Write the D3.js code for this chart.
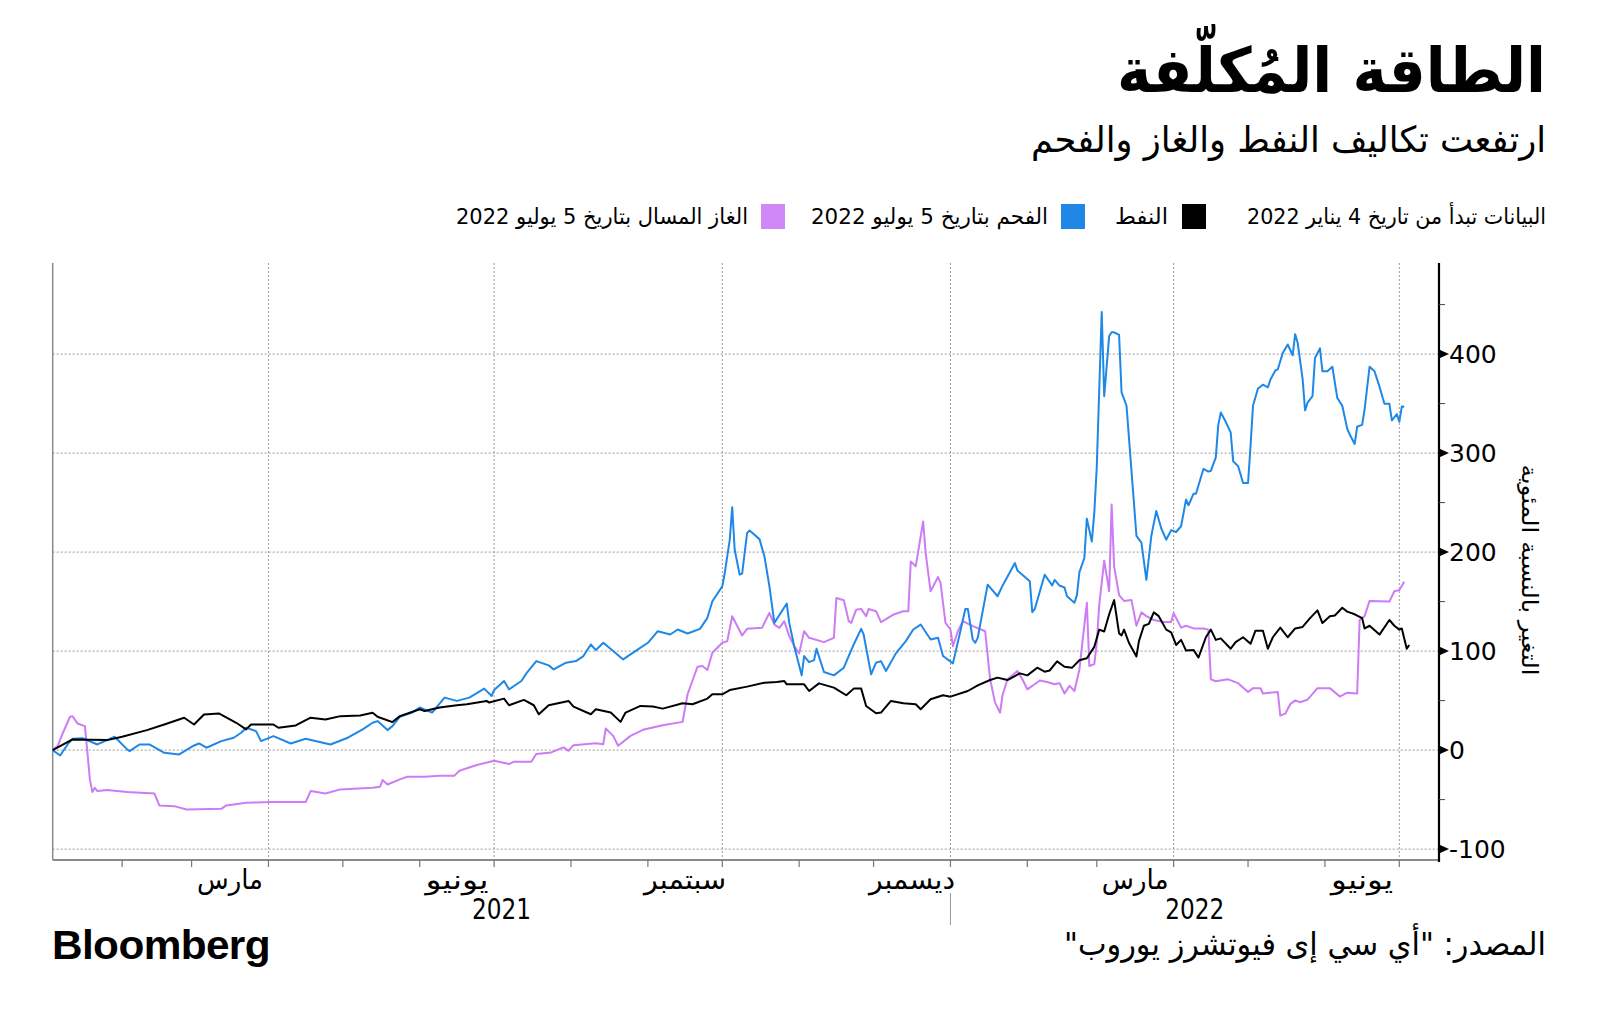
<!DOCTYPE html>
<html><head><meta charset="utf-8">
<script src="https://cdn.jsdelivr.net/npm/d3@7"></script>
<style>body{margin:0;background:#fff}svg{display:block}</style>
</head><body>
<svg id="chart" width="1600" height="1027"></svg>
<script>
// ---- DATA (day offset from start date, % change) ----
const startDate = "2021-01-04";
const endDate = "2022-07-17";
const seriesNames = ["النفط", "الفحم بتاريخ 5 يوليو 2022", "الغاز المسال بتاريخ 5 يوليو 2022"];
const legendNote = "البيانات تبدأ من تاريخ 4 يناير 2022";
const oilData = [[0,0],[8,10.8],[22,10.1],[28,13.5],[38,20.2],[45,25.9],[53,32.7],[57,25.9],[61,36],[67,37],[74,27.6],[78,20.9],[80,25.9],[89,25.9],[91,22.6],[98,24.9],[104,32.7],[110,31],[116,34.3],[124,35],[129,37.7],[131,33.7],[137,28.3],[140,34.3],[148,41.3],[150,39.4],[156,43],[163,45.3],[167,46.3],[175,49.7],[176,48],[182,52],[184,45.3],[190,50.7],[194,45.3],[196,36.2],[200,45.3],[208,49.7],[210,44],[217,36.2],[219,41.3],[225,37.9],[229,28.5],[231,37.9],[237,44.6],[242,44],[246,41.9],[254,47.3],[258,46.3],[264,52],[266,56.4],[270,56.4],[273,60.7],[280,64.1],[287,68.1],[292,68.8],[295,69.8],[296,66.4],[301,66.4],[303,66.4],[305,59.7],[309,67.4],[315,63.1],[320,55.4],[323,62.1],[326,62.1],[328,44.6],[332,37.2],[334,37.9],[338,49.7],[343,47.3],[348,46.3],[350,41.3],[354,51.3],[359,55.4],[362,54],[369,59.7],[373,65.4],[378,70.8],[381,73.2],[385,70.8],[390,77.5],[393,75.5],[397,83.2],[400,79.2],[402,80.4],[405,89.6],[408,84.2],[411,83.1],[414,90.8],[417,92.7],[420,104.3],[422,121.7],[424,119.8],[426,137.2],[428,151.5],[430,117.9],[431,115.9],[432,121.7],[434,108.2],[437,94.6],[438,110.1],[440,125.6],[442,127.5],[444,139.1],[446,135.3],[449,121.7],[451,119],[453,106.2],[455,111.3],[457,100.5],[460,101.2],[462,93.5],[465,114],[467,121.7],[469,111.3],[471,112.9],[475,102.4],[477,109],[480,114],[483,107.4],[485,120.6],[488,120.6],[490,102.4],[492,114],[495,123.7],[498,114],[501,122.9],[504,124.4],[507,133.3],[510,141.1],[512,128.3],[515,135.3],[517,136],[520,143.8],[522,139.9],[525,137.2],[528,133.3],[529,122.9],[531,125.6],[535,116.7],[539,131.4],[541,125.6],[543,121.7],[544,122.9],[546,102.4],[547,106.2]];
const coalData = [[0,0],[3,-5.4],[6,5.7],[8,11.4],[12,12.1],[18,5.7],[25,13.5],[30,0.7],[31,-1],[35,5.7],[39,5.7],[45,-2.7],[51,-4.4],[57,4.7],[59,6.7],[62,2.4],[68,9.1],[73,12.5],[76,17.5],[78,22.6],[82,19.2],[84,9.1],[89,14.1],[96,6.7],[102,11.4],[112,5.7],[119,12.5],[125,20.9],[129,27.6],[131,29.3],[135,20.2],[137,24.2],[140,33.7],[145,37.9],[148,43],[153,37.9],[158,53],[163,49.7],[168,53],[174,62.1],[177,54.7],[178,60.7],[182,69.8],[184,61.4],[189,69.8],[191,77.5],[195,89.9],[200,85.6],[202,81.5],[207,88.3],[211,89.9],[214,95],[217,106.7],[219,101],[222,108.4],[226,100],[230,91.6],[236,101.7],[240,108.4],[244,120.1],[249,116.8],[252,121.8],[256,117.8],[261,122.5],[264,133.6],[266,150.3],[270,165.4],[271,178.9],[273,212.4],[274,245.3],[275,202.3],[277,177.2],[278,178.2],[280,219.1],[281,221.8],[285,213.1],[287,195.6],[289,165.4],[291,128.5],[296,148],[297,128.5],[299,105],[302,75.5],[303,95],[305,88.9],[307,90.9],[308,102.3],[311,78.9],[315,75.5],[319,83.2],[323,106.7],[326,122.5],[327,116.8],[330,76.5],[332,88.3],[334,89.9],[336,79.9],[340,97.7],[344,110.1],[347,121.8],[350,126.8],[354,111.7],[357,113.4],[359,95],[363,87.6],[366,120.1],[368,142.6],[369,142.6],[371,111.7],[372,108.4],[373,113.4],[377,167.1],[381,155.4],[383,166.1],[388,188.9],[389,181.5],[394,170.5],[395,139.3],[396,142.6],[400,177.2],[403,166.2],[404,172],[406,166.2],[408,164.2],[409,155.3],[412,148.8],[413,156.5],[414,179.7],[416,194],[417,233.8],[419,210.6],[420,239.6],[421,286],[423,442.5],[424,357.5],[426,418.2],[427,422],[428,422],[430,419.3],[431,361.3],[433,347.8],[435,282.1],[437,216.4],[439,209.5],[441,172],[443,216.4],[445,241.5],[447,224.1],[449,212.5],[451,222.2],[453,220.3],[455,226.1],[457,253.1],[458,247.3],[460,258.9],[461,258.9],[464,284],[466,281.3],[467,282.1],[469,295.6],[470,328.5],[471,340.9],[473,331.6],[475,320.8],[476,291.8],[478,286.8],[479,278.3],[480,269.8],[482,269.8],[483,307.2],[484,347.8],[486,365.2],[488,369.1],[490,366.4],[491,374.1],[493,383.4],[494,384.5],[496,401.2],[498,409.7],[500,398.8],[501,420.1],[502,411.6],[504,374.9],[505,343.2],[506,350.9],[508,357.5],[509,396.1],[511,405.8],[512,382.6],[514,382.6],[516,387.2],[518,355.6],[520,347.8],[522,324.6],[523,318.8],[525,309.2],[526,326.6],[528,328.5],[529,344],[531,387.2],[533,382.6],[535,367.1],[537,349.8],[539,349.8],[540,333.1],[542,339.3],[543,331.6],[544,347],[545,346.7]];
const lngData = [[0,0],[2,4],[4,16.8],[7,33.7],[8,34.3],[10,26.9],[13,24.2],[15,-29.6],[16,-42.4],[17,-38],[18,-41.4],[22,-40.4],[30,-42.4],[41,-43.8],[43,-55.9],[49,-56.6],[54,-59.9],[68,-59.3],[70,-55.9],[78,-53.2],[89,-52.5],[102,-52.5],[104,-41.4],[110,-43.8],[116,-39.7],[129,-38],[132,-37],[133,-30.3],[135,-34.7],[140,-29.6],[143,-26.9],[150,-26.9],[156,-25.8],[162,-25.8],[164,-20.8],[171,-15.1],[178,-10.7],[184,-14.1],[186,-11.7],[193,-11.7],[195,-4],[201,-2.3],[206,2.7],[208,-0.7],[210,5],[219,7],[222,6],[223,21.8],[226,14.4],[228,4.4],[233,14.4],[238,20.5],[246,25.2],[254,28.5],[256,56.4],[260,84.2],[262,84.9],[264,80.9],[266,98.3],[270,108.4],[272,110.1],[274,135.2],[278,115.8],[280,122.5],[286,123.5],[289,138.6],[291,126.8],[293,123.5],[295,130.2],[297,115.1],[299,105],[301,97.7],[303,120.1],[305,113.4],[311,109.1],[315,113.4],[316,153.7],[319,151.3],[321,130.2],[322,128.5],[324,141.9],[326,142.6],[328,135.2],[329,142.6],[332,140.3],[334,129.2],[339,136.9],[343,140.3],[345,140.3],[346,190.6],[348,185.6],[351,230.9],[352,199],[354,160.4],[357,174.8],[358,168.8],[360,128.5],[362,121.8],[363,105],[365,120.1],[367,130.2],[371,125.2],[376,120.1],[378,71.5],[380,48],[382,37.9],[383,55.4],[385,71.5],[389,79.9],[391,71.5],[393,61.4],[395,64.8],[398,70.3],[401,68.8],[404,66.5],[406,67.6],[408,57.2],[410,64.9],[412,59.7],[414,81.5],[417,148.8],[418,85],[420,86.9],[421,108.2],[422,146.9],[424,191.3],[426,160.4],[427,248.1],[428,185.5],[430,156.5],[432,150.7],[435,151.5],[437,125.6],[439,139.1],[441,135.3],[444,131.4],[448,129.5],[451,129.5],[452,138.3],[455,123.7],[457,125.6],[460,122.9],[464,122.9],[466,121.7],[467,71.5],[469,69.5],[474,71.5],[478,67.6],[482,58.7],[484,62.6],[487,62.6],[488,57.2],[494,58.7],[495,34.8],[497,36.8],[499,46.4],[501,50.2],[503,48.3],[506,51],[510,62.6],[515,62.6],[519,54.1],[522,58],[526,57.2],[527,131.4],[529,135.3],[531,150.7],[539,150],[541,160.4],[543,161.6],[545,170]];
const yTicks = [-100, 0, 100, 200, 300, 400];
const monthLabels = ["مارس", "يونيو", "سبتمبر", "ديسمبر", "مارس", "يونيو"];
const monthLabelDates = ["2021-03-01", "2021-06-01", "2021-09-01", "2021-12-01", "2022-03-01", "2022-06-01"];
const yearLabels = ["2021", "2022"];
const titleText = "الطاقة المُكلّفة";
const subtitleText = "ارتفعت تكاليف النفط والغاز والفحم";
const yAxisTitle = "التغير بالنسبة المئوية";
const sourceText = "المصدر: \"أي سي إى فيوتشرز يوروب\"";

// ---- LAYOUT ----
const svg = d3.select("#chart");
const AR = "'DejaVu Sans', 'Noto Sans', sans-serif";
const colors = { oil: "#000000", coal: "#1f88e6", lng: "#cc7cf4" };
const L = 52.7, R = 1439, T = 263, B = 860;
const parse = d3.utcParse("%Y-%m-%d");
const t0 = parse(startDate);
const dayToDate = d => new Date(t0.getTime() + d * 86400000);
const x = d3.scaleUtc().domain([t0, parse(endDate)]).range([L, R]);
const y = d3.scaleLinear().domain([-111, 492]).range([B, T]);

function rtlText(g, txt, xx, yy, size, width, weight) {
  const t = g.append("text").attr("x", xx).attr("y", yy)
    .attr("direction", "rtl").attr("text-anchor", "start")
    .attr("font-family", AR).attr("font-size", size)
    .attr("font-weight", weight || "normal").attr("fill", "#000").text(txt);
  if (width) t.attr("textLength", width).attr("lengthAdjust", "spacingAndGlyphs");
  return t;
}

// title / subtitle
rtlText(svg, titleText, 1546, 92, 62, 429, "bold");
rtlText(svg, subtitleText, 1546, 152, 36, 515);

// legend
rtlText(svg, legendNote, 1546, 224, 22, 299);
const legendItems = [
  { sq: 1182, tx: 1168, w: 53, c: colors.oil, name: seriesNames[0] },
  { sq: 1061, tx: 1048, w: 237, c: colors.coal, name: seriesNames[1] },
  { sq: 761, tx: 748, w: 292, c: "#d088f6", name: seriesNames[2] }
];
legendItems.forEach(it => {
  svg.append("rect").attr("x", it.sq).attr("y", 204).attr("width", 24).attr("height", 25).attr("fill", it.c);
  rtlText(svg, it.name, it.tx, 224, 22, it.w);
});

// grid
const grid = svg.append("g");
grid.selectAll("line.h").data(yTicks).join("line")
  .attr("x1", L).attr("x2", R).attr("y1", d => y(d)).attr("y2", d => y(d))
  .attr("stroke", "#9a9a9a").attr("stroke-width", 1).attr("stroke-dasharray", "2,2");
const quarterDates = d3.utcMonth.every(3).range(parse("2021-04-01"), parse("2022-07-02"));
grid.selectAll("line.v").data(quarterDates).join("line")
  .attr("x1", d => x(d)).attr("x2", d => x(d)).attr("y1", T).attr("y2", B)
  .attr("stroke", "#9a9a9a").attr("stroke-width", 1).attr("stroke-dasharray", "2,2");

// axes lines
svg.append("line").attr("x1", L).attr("x2", L).attr("y1", T).attr("y2", B).attr("stroke", "#8a8a8a").attr("stroke-width", 1.5);
svg.append("line").attr("x1", L).attr("x2", R).attr("y1", B).attr("y2", B).attr("stroke", "#8a8a8a").attr("stroke-width", 2);

// x ticks
const monthTicks = d3.utcMonth.range(parse("2021-02-01"), parse("2022-07-02"));
svg.selectAll("line.mt").data(monthTicks).join("line")
  .attr("x1", d => x(d)).attr("x2", d => x(d)).attr("y1", B).attr("y2", B + 7)
  .attr("stroke", "#777").attr("stroke-width", 1.2);
svg.append("line").attr("x1", x(parse("2022-01-01"))).attr("x2", x(parse("2022-01-01")))
  .attr("y1", 893).attr("y2", 925).attr("stroke", "#999").attr("stroke-width", 1);

const monthW = [66, 63, 82, 86, 67, 62];
monthLabels.forEach((m, i) => {
  const d = parse(monthLabelDates[i]);
  const mid = new Date((d.getTime() + d3.utcMonth.offset(d, 1).getTime()) / 2);
  svg.append("text").attr("x", x(mid)).attr("y", 889).attr("text-anchor", "middle")
    .attr("font-family", AR).attr("font-size", 27).attr("textLength", monthW[i])
    .attr("lengthAdjust", "spacingAndGlyphs").text(m);
});
const yearBounds = [[t0, parse("2022-01-01")], [parse("2022-01-01"), parse(endDate)]];
yearLabels.forEach((yl, i) => {
  const cx = (x(yearBounds[i][0]) + x(yearBounds[i][1])) / 2;
  svg.append("text").attr("x", cx).attr("y", 919).attr("text-anchor", "middle")
    .attr("font-family", AR).attr("font-size", 29).attr("textLength", 59)
    .attr("lengthAdjust", "spacingAndGlyphs").text(yl);
});

// lines
const line = d3.line().x(d => x(dayToDate(d[0]))).y(d => y(d[1]));
const plotG = svg.append("g");
plotG.append("path").datum(lngData).attr("d", line).attr("fill", "none").attr("stroke", colors.lng).attr("stroke-width", 2).attr("stroke-linejoin", "round");
plotG.append("path").datum(coalData).attr("d", line).attr("fill", "none").attr("stroke", colors.coal).attr("stroke-width", 2).attr("stroke-linejoin", "round");
plotG.append("path").datum(oilData).attr("d", line).attr("fill", "none").attr("stroke", colors.oil).attr("stroke-width", 2).attr("stroke-linejoin", "round");

// right axis
svg.append("line").attr("x1", R).attr("x2", R).attr("y1", T).attr("y2", B + 2).attr("stroke", "#000").attr("stroke-width", 2.2);
const minorY = d3.range(-50, 500, 100);
svg.selectAll("line.my").data(minorY).join("line")
  .attr("x1", R).attr("x2", R + 6).attr("y1", d => y(d)).attr("y2", d => y(d))
  .attr("stroke", "#444").attr("stroke-width", 1);
svg.selectAll("path.tri").data(yTicks).join("path")
  .attr("d", d => `M${R},${y(d) - 4.5}L${R + 10},${y(d)}L${R},${y(d) + 4.5}Z`).attr("fill", "#000");
svg.selectAll("text.yl").data(yTicks).join("text")
  .attr("x", R + 10).attr("y", d => y(d) + 9).attr("font-family", "'DejaVu Sans', sans-serif")
  .attr("font-size", 25).attr("fill", "#000").text(d => d);

// y axis title (rotated)
svg.append("text").attr("transform", `translate(1522,570) rotate(90)`)
  .attr("text-anchor", "middle").attr("direction", "rtl")
  .attr("font-family", AR).attr("font-size", 22).attr("textLength", 211)
  .attr("lengthAdjust", "spacingAndGlyphs").text(yAxisTitle);

// footer
rtlText(svg, sourceText, 1546, 955, 32, 482);
svg.append("text").attr("x", 52).attr("y", 959).attr("font-family", "'Liberation Sans', Arial, sans-serif")
  .attr("font-weight", "bold").attr("font-size", 41).attr("letter-spacing", -0.6).attr("textLength", 218)
  .attr("lengthAdjust", "spacingAndGlyphs").text("Bloomberg");
</script>
</body></html>
